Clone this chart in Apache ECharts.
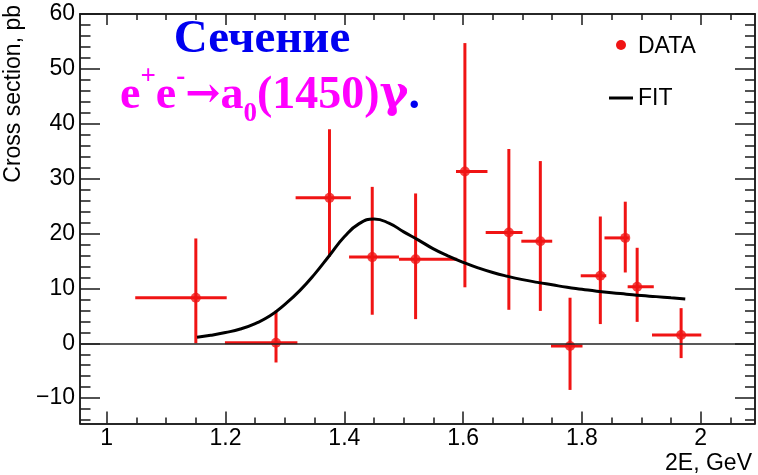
<!DOCTYPE html>
<html>
<head>
<meta charset="utf-8">
<script src="https://cdn.jsdelivr.net/npm/echarts@6/dist/echarts.min.js"></script>
<style>
  html, body { margin: 0; padding: 0; background: #fff; }
  #chart { width: 758px; height: 475px; }
</style>
</head>
<body>
<div id="chart"></div>
<script>
// Measured cross section of e+e- -> a0(1450) gamma, per energy bin
const binCenter = [1.150, 1.285, 1.375, 1.447, 1.520, 1.603, 1.677, 1.730, 1.780, 1.831, 1.873, 1.893, 1.967];
const binLow    = [1.048, 1.199, 1.318, 1.408, 1.492, 1.588, 1.638, 1.698, 1.748, 1.798, 1.838, 1.877, 1.918];
const binHigh   = [1.202, 1.321, 1.411, 1.492, 1.590, 1.641, 1.700, 1.750, 1.801, 1.841, 1.879, 1.921, 2.001];
const sigma     = [8.3, 0.1, 26.5, 15.7, 15.3, 31.3, 20.2, 18.6, -0.5, 12.3, 19.2, 10.3, 1.5];
const sigmaLow  = [0.0, -3.5, 15.8, 5.2, 4.4, 10.2, 6.1, 5.9, -8.5, 3.5, 12.9, 3.9, -2.7];
const sigmaHigh = [19.1, 5.95, 39.0, 28.5, 27.3, 54.7, 35.4, 33.2, 8.3, 23.1, 25.8, 17.4, 6.4];

// Fitted resonance curve
const fitEnergy = [1.152, 1.175, 1.2, 1.225, 1.25, 1.275, 1.3, 1.325, 1.35, 1.375, 1.4, 1.425, 1.45,
                   1.475, 1.5, 1.525, 1.55, 1.575, 1.6, 1.625, 1.65, 1.675, 1.7, 1.725, 1.75, 1.775,
                   1.8, 1.825, 1.85, 1.875, 1.9, 1.925, 1.95, 1.974];
const fitSigma  = [1.1, 1.45, 1.95, 2.6, 3.6, 5.0, 7.1, 9.6, 12.6, 16.0, 19.4, 21.8, 22.65,
                   21.9, 20.3, 18.8, 17.2, 15.9, 14.75, 13.75, 12.9, 12.2, 11.6, 11.1, 10.65, 10.2,
                   9.85, 9.5, 9.2, 8.95, 8.7, 8.5, 8.28, 8.07];

// Axis tick labels
const xTickValues = [1, 1.2, 1.4, 1.6, 1.8, 2];
const yTickValues = [-10, 0, 10, 20, 30, 40, 50, 60];

const X_MIN = 0.955, X_MAX = 2.0914;
const Y_MIN = -14.6, Y_MAX = 60;

const xMinorTicks = [];
for (let k = 20; k <= 41; k++) xMinorTicks.push(+(k * 0.05).toFixed(2));
const yMinorTicks = [];
for (let k = -7; k <= 30; k++) yMinorTicks.push(k * 2);

const RED = '#f01414';
const AXIS = '#1a1a1a';
const SANS = 'Liberation Sans, Arial, sans-serif';
const SERIF = 'Liberation Serif, Times New Roman, serif';
const SYMB = 'DejaVu Serif, serif';

function xAxisDef(position, ticks, len, withLabels) {
  return {
    type: 'value', position, min: X_MIN, max: X_MAX,
    axisLine: { show: true, onZero: false, lineStyle: { color: AXIS, width: 1.5 } },
    axisTick: { show: true, inside: true, length: len, customValues: ticks,
                lineStyle: { color: AXIS, width: 1.5 } },
    axisLabel: withLabels ? {
      show: true, customValues: xTickValues, fontSize: 23, fontFamily: SANS, color: '#000', margin: 4,
      formatter: v => String(+v.toFixed(1))
    } : { show: false },
    splitLine: { show: false }
  };
}
function yAxisDef(position, ticks, len, withLabels) {
  return {
    type: 'value', position, min: Y_MIN, max: Y_MAX,
    axisLine: { show: true, onZero: false, lineStyle: { color: AXIS, width: 1.5 } },
    axisTick: { show: true, inside: true, length: len, customValues: ticks,
                lineStyle: { color: AXIS, width: 1.5 } },
    axisLabel: withLabels ? {
      show: true, customValues: yTickValues, fontSize: 23, fontFamily: SANS, color: '#000', margin: 5,
      formatter: v => (v < 0 ? '\u2212' + Math.abs(v) : String(v))
    } : { show: false },
    splitLine: { show: false }
  };
}

const errData = binCenter.map((x, i) => [x, sigma[i], binLow[i], binHigh[i], sigmaLow[i], sigmaHigh[i]]);
const pointData = binCenter.map((x, i) => [x, sigma[i]]);
const fitData = fitEnergy.map((x, i) => [x, fitSigma[i]]);

const chart = echarts.init(document.getElementById('chart'), null, { renderer: 'canvas' });

chart.setOption({
  animation: false,
  backgroundColor: '#fff',
  grid: { left: 80, right: 3, top: 14, bottom: 51.6, containLabel: false },
  xAxis: [
    xAxisDef('bottom', xTickValues, 12, true),
    xAxisDef('bottom', xMinorTicks, 6, false),
    xAxisDef('top', xTickValues, 11, false),
    xAxisDef('top', xMinorTicks, 6, false)
  ],
  yAxis: [
    yAxisDef('left', yTickValues, 20, true),
    yAxisDef('left', yMinorTicks, 10.5, false),
    yAxisDef('right', yTickValues, 20, false),
    yAxisDef('right', yMinorTicks, 10, false)
  ],
  series: [
    {
      type: 'custom',
      name: 'DATA errors',
      xAxisIndex: 0, yAxisIndex: 0,
      z: 2,
      encode: { x: [0, 2, 3], y: [1, 4, 5] },
      data: errData,
      renderItem: function (params, api) {
        const x = api.value(0), y = api.value(1);
        const l = api.coord([api.value(2), y]);
        const r = api.coord([api.value(3), y]);
        const lo = api.coord([x, api.value(4)]);
        const hi = api.coord([x, api.value(5)]);
        const st = { stroke: RED, lineWidth: 3 };
        return {
          type: 'group',
          children: [
            { type: 'line', shape: { x1: l[0], y1: l[1], x2: r[0], y2: r[1] }, style: st },
            { type: 'line', shape: { x1: lo[0], y1: lo[1], x2: hi[0], y2: hi[1] }, style: st }
          ]
        };
      },
      markLine: {
        silent: true, symbol: 'none', label: { show: false },
        lineStyle: { color: '#222', width: 1.5, type: 'solid' },
        data: [{ yAxis: 0 }]
      }
    },
    {
      type: 'scatter',
      name: 'DATA',
      xAxisIndex: 0, yAxisIndex: 0,
      z: 3,
      symbol: 'circle', symbolSize: 10,
      itemStyle: { color: RED },
      data: pointData
    },
    {
      type: 'line',
      name: 'FIT',
      xAxisIndex: 0, yAxisIndex: 0,
      z: 4,
      smooth: 0.5,
      showSymbol: false,
      lineStyle: { color: '#000', width: 3 },
      data: fitData
    }
  ],
  graphic: [
    // axis titles
    {
      type: 'text', x: 14, y: 5, rotation: Math.PI / 2,
      style: { text: 'Cross section, pb', font: '23px ' + SANS, fill: '#000',
               align: 'right', verticalAlign: 'middle' }
    },
    {
      type: 'text', x: 752, y: 464,
      style: { text: '2E, GeV', font: '23px ' + SANS, fill: '#000',
               align: 'right', verticalAlign: 'middle' }
    },
    // heading
    {
      type: 'text', x: 262, y: 40,
      style: { text: 'Сечение', font: 'bold 47px ' + SERIF, fill: '#0000f0',
               align: 'center', verticalAlign: 'middle' }
    },
    {
      type: 'text', x: 120, y: 64,
      style: {
        text: '{m|e}{sup|+}{m|e}{sup|-}{arr|→}{m|a}{sub|0}{m|(1450)}{g|γ}{dot|.}',
        align: 'left', verticalAlign: 'top',
        rich: {
          m:   { font: 'bold 46px ' + SERIF, fill: '#ff00ff', lineHeight: 64, verticalAlign: 'middle' },
          arr: { font: 'bold 42px ' + SYMB, fill: '#ff00ff', lineHeight: 64, verticalAlign: 'middle' },
          g:   { font: 'bold 44px ' + SYMB, fill: '#ff00ff', lineHeight: 64, verticalAlign: 'middle' },
          sup: { font: 'bold 27px ' + SERIF, fill: '#ff00ff', lineHeight: 30, verticalAlign: 'top' },
          sub: { font: 'bold 27px ' + SERIF, fill: '#ff00ff', lineHeight: 22, verticalAlign: 'bottom' },
          dot: { font: 'bold 46px ' + SERIF, fill: '#0000f0', lineHeight: 64, verticalAlign: 'middle' }
        }
      }
    },
    // legend
    { type: 'circle', shape: { cx: 621, cy: 45, r: 5 }, style: { fill: RED } },
    {
      type: 'text', x: 638, y: 47,
      style: { text: 'DATA', font: '23px ' + SANS, fill: '#000', align: 'left', verticalAlign: 'middle' }
    },
    { type: 'line', shape: { x1: 609, y1: 98, x2: 633, y2: 98 }, style: { stroke: '#000', lineWidth: 3 } },
    {
      type: 'text', x: 638, y: 99,
      style: { text: 'FIT', font: '23px ' + SANS, fill: '#000', align: 'left', verticalAlign: 'middle' }
    }
  ]
});
</script>
</body>
</html>
